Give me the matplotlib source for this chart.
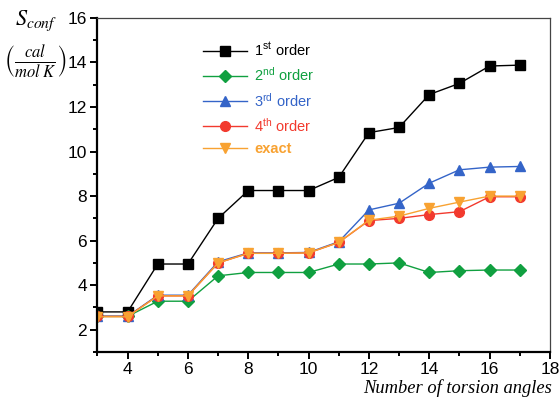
import matplotlib
matplotlib.use("Agg")
import matplotlib.pyplot as plt
from matplotlib.ticker import MultipleLocator

plt.rcParams['font.family'] = ['Liberation Sans', 'DejaVu Sans']
plt.rcParams['mathtext.fontset'] = 'stix'

torsions = [3, 4, 5, 6, 7, 8, 9, 10, 11, 12, 13, 14, 15, 16, 17]
first = [2.8, 2.8, 4.95, 4.95, 7.0, 8.25, 8.25, 8.25, 8.84, 10.85, 11.08, 12.56, 13.06, 13.84, 13.88]
second = [2.6, 2.6, 3.28, 3.28, 4.42, 4.57, 4.57, 4.57, 4.95, 4.95, 5.0, 4.57, 4.65, 4.68, 4.68]
third = [2.6, 2.6, 3.55, 3.55, 5.05, 5.45, 5.45, 5.47, 5.95, 7.38, 7.68, 8.58, 9.18, 9.3, 9.33]
fourth = [2.6, 2.6, 3.52, 3.52, 5.0, 5.43, 5.43, 5.45, 5.92, 6.9, 7.0, 7.17, 7.3, 7.97, 7.97]
exact = [2.58, 2.58, 3.52, 3.52, 5.0, 5.43, 5.43, 5.45, 5.92, 6.92, 7.1, 7.45, 7.73, 8.0, 8.0]

labels = [r'1$^{\mathregular{st}}$ order', r'2$^{\mathregular{nd}}$ order',
          r'3$^{\mathregular{rd}}$ order', r'4$^{\mathregular{th}}$ order', 'exact']
colors = ['#000000', '#10a040', '#3464c8', '#f23a2e', '#f8a232']
markers = ['s', 'D', '^', 'o', 'v']

fig = plt.figure(figsize=(5.6, 3.98), dpi=100)
ax = fig.add_axes([0.174, 0.1156, 0.808, 0.8394])

for ys, lab, c, m in zip([first, second, third, fourth, exact], labels, colors, markers):
    ax.plot(torsions, ys, color=c, marker=m, markersize=7 if m != 'D' else 6.5,
            linewidth=1.0, label=lab, markeredgecolor=c)

ax.set_xlim(3, 18)
ax.set_ylim(1, 16)
ax.xaxis.set_minor_locator(MultipleLocator(1))
ax.yaxis.set_minor_locator(MultipleLocator(1))
ax.tick_params(which='both', direction='out', width=1.4, labelsize=12.5, pad=2.5)
ax.tick_params(which='major', length=5)
ax.tick_params(which='minor', length=3)
ax.set_xticks(range(4, 19, 2))
ax.set_yticks(range(2, 17, 2))
for s in ['left', 'bottom']:
    ax.spines[s].set_linewidth(1.6)
for s in ['top', 'right']:
    ax.spines[s].set_linewidth(0.9)
    ax.spines[s].set_color('#444444')

leg = ax.legend(loc='upper left', bbox_to_anchor=(196 / 560, 1 - 34 / 398),
                bbox_transform=fig.transFigure, frameon=False, fontsize=10.5,
                handlelength=3.0, labelspacing=0.5, borderpad=0, handletextpad=0.5)
for txt, c in zip(leg.get_texts(), colors):
    txt.set_color(c)
leg.get_texts()[-1].set_fontweight('bold')

fig.text(36 / 560, 1 - 21 / 398, r'$S_{conf}$', fontsize=16, ha='center', va='center')
fig.text(36 / 560, 1 - 62 / 398, r'$\left(\frac{cal}{mol\ K}\right)$', fontsize=17,
         ha='center', va='center')
fig.text(552 / 560, 1 - 388 / 398, 'Number of torsion angles', fontsize=13.3,
         family='Liberation Serif', style='italic', ha='right', va='center')

fig.savefig('out.png', dpi=100)
